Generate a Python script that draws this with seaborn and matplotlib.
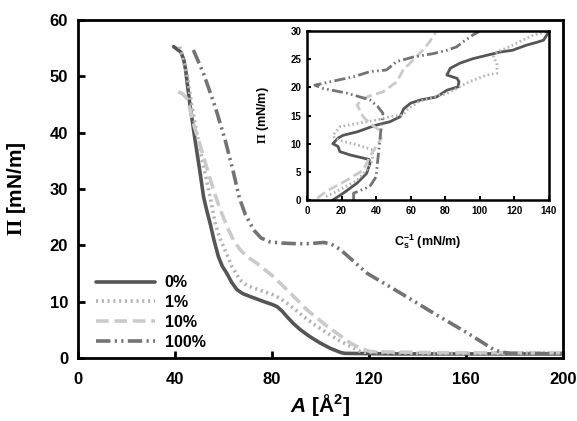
import matplotlib
matplotlib.use("Agg")
import matplotlib.pyplot as plt
import seaborn as sns

sns.set_style("ticks")
plt.rcParams['font.family'] = ['Liberation Sans', 'DejaVu Sans']
plt.rcParams['font.weight'] = 'bold'
plt.rcParams['mathtext.fontset'] = 'custom'
plt.rcParams['mathtext.rm'] = 'Liberation Serif'
plt.rcParams['mathtext.bf'] = 'Liberation Sans:bold'
plt.rcParams['mathtext.bfit'] = 'Liberation Sans:bold:italic'
for k in ['text.color', 'axes.labelcolor', 'xtick.color', 'ytick.color']:
    plt.rcParams[k] = 'black'

# main isotherms: area per molecule A vs surface pressure
A_0 = [39.5, 42.5, 43.6, 44.4, 45.3, 46.3, 48.3, 50.4, 51.8, 53.1, 54.5, 56.1, 57.9, 59.5, 61.4, 63.4, 65.6, 68, 71, 76.6, 80, 82.1, 84.2, 86.2, 88.8, 91.7, 95.5, 100, 104, 108.3, 110, 130, 160, 200]
P_0 = [55.3, 54.3, 53, 51.2, 48, 44.6, 38.7, 32.8, 28.6, 26.2, 23.9, 20.9, 18, 16.3, 15, 13.4, 12.1, 11.4, 10.9, 10, 9.5, 9.1, 8.3, 7.3, 6.1, 5, 3.8, 2.6, 1.7, 0.95, 0.8, 0.7, 0.7, 0.7]

A_1 = [42, 43.3, 44.9, 46, 47, 49, 51.8, 54.5, 56.6, 58.2, 60, 63.5, 66.9, 69.5, 72.5, 76.5, 80.7, 83.5, 86.2, 89.5, 93.1, 97.5, 102.8, 108, 113.8, 117, 140, 170, 200]
P_1 = [55.3, 53, 50.5, 47.5, 44.6, 39.9, 34, 28.6, 23.9, 21.6, 19.8, 16.2, 13.8, 12.9, 12.4, 11.8, 11.2, 10.5, 9.7, 8.6, 7.3, 5.9, 4.4, 3, 1.7, 1.0, 0.8, 0.8, 0.9]

A_10 = [41.4, 43.2, 44.9, 46.2, 47.6, 51.8, 55.9, 58.7, 62.1, 64.3, 66.9, 70, 73.8, 77.2, 80.7, 84, 87.6, 94.5, 102.8, 112.4, 117, 120.7, 150, 200]
P_10 = [47.3, 46.9, 46.1, 44.2, 41.7, 35.7, 29.8, 26.3, 22.7, 20.8, 19.2, 17.9, 16.8, 15.6, 14.4, 13, 11.5, 8.5, 5.6, 2.6, 1.6, 1.1, 0.9, 0.9]

A_100 = [47.6, 51.8, 56.6, 60.7, 64.2, 66.5, 69, 72.5, 75.5, 79.3, 84, 89, 95, 101.4, 104.5, 108.3, 113, 119.3, 133, 146.8, 160.6, 166.5, 171.6, 175, 178.5, 200]
P_100 = [54.7, 50.5, 44.6, 38.7, 32.8, 28.5, 25.5, 22.7, 21.3, 20.6, 20.4, 20.3, 20.3, 20.5, 20.2, 19.2, 17.4, 15, 11.5, 7.9, 4.4, 2.8, 1.4, 1.0, 0.8, 0.7]

# inset: compressibility modulus Cs^-1 vs surface pressure
C_0 = [15, 21, 29, 34.5, 36.5, 36, 25, 19, 18, 15, 18, 21, 29, 34.5, 40, 48, 54, 56, 60, 66, 75, 81, 87.5, 88, 87, 81, 83, 88.5, 96, 104, 112, 119, 127, 134, 137, 139.5, 139]
Pi_0 = [0, 1.2, 3, 4.7, 6.5, 7.2, 8, 8.6, 9.5, 10, 11, 11.5, 12.1, 12.7, 13.3, 13.9, 14.8, 16.2, 17.2, 17.8, 18.3, 19.5, 20.1, 21, 21.6, 22.2, 23.4, 24.3, 25.1, 25.7, 26.3, 26.6, 27.5, 28.1, 28.4, 29.6, 30]

C_1 = [11, 19, 29, 34.5, 38, 38, 29, 21, 16, 15, 19, 29, 40, 48, 55.7, 57.7, 65, 73, 81, 86.6, 94, 104, 110, 110, 108, 110, 117, 123, 131, 139]
Pi_1 = [0.6, 1.8, 3.5, 5.3, 7.1, 8.9, 9.8, 10.4, 11, 11.5, 13, 13.6, 14.2, 14.8, 15.1, 16, 17.5, 18.3, 18.9, 19.8, 21, 22.2, 22.5, 24.3, 25.4, 26.3, 27.2, 28.1, 29.3, 29.9]

C_10 = [6, 11, 23, 32.6, 36.4, 40, 43, 42, 36.4, 32.6, 29, 32.6, 36.4, 44, 52, 55.7, 59.6, 67, 71, 75]
Pi_10 = [0.3, 1.5, 3.5, 5.3, 7.7, 9.5, 10.9, 12.4, 13.6, 14.8, 16.9, 18, 18.5, 19.2, 21, 23.1, 24.3, 26.6, 28.1, 30]

C_100 = [27, 27, 36.4, 40, 41, 42, 43, 44, 41, 36.4, 23, 9.5, 4.6, 13.3, 27, 36.4, 46, 52, 61.5, 73, 81, 86.6, 90.4, 96, 100]
Pi_100 = [0, 1.2, 2.4, 4.1, 7.1, 10, 13, 15.4, 16.6, 17.8, 19, 19.8, 20.4, 21, 21.9, 22.8, 23.1, 24.6, 25.4, 26, 26.6, 27.2, 28.1, 29.3, 30]

labels = ['0%', '1%', '10%', '100%']
colors = ['#555555', '#b4b4b4', '#cacaca', '#737373']
styles = ['-', (0, (0.6, 1.0)), (0, (3.5, 1.6)), (0, (4, 1.2, 0.6, 1.2, 0.6, 1.2))]

fig = plt.figure(figsize=(5.77, 4.21), dpi=100)
ax = fig.add_axes([0.135, 0.150, 0.841, 0.802])

main = [(A_0, P_0), (A_1, P_1), (A_10, P_10), (A_100, P_100)]
for (a, p), lab, c, ls in zip(main, labels, colors, styles):
    sns.lineplot(x=a, y=p, sort=False, estimator=None, ax=ax, color=c,
                 linestyle=ls, linewidth=2.6, label=lab)

ax.set_xlim(0, 200)
ax.set_ylim(0, 60)
ax.set_xticks([0, 40, 80, 120, 160, 200])
ax.set_yticks([0, 10, 20, 30, 40, 50, 60])
ax.tick_params(direction='in', length=5, width=2, labelsize=12, pad=7)
ax.tick_params(axis='x', pad=10)
for s in ax.spines.values():
    s.set_linewidth(2)
    s.set_color('black')
ax.set_xlabel(r'$\mathbfit{A}$ [Å$^{\mathbf{2}}$]', fontsize=15, fontweight='bold', labelpad=4)
ax.set_ylabel(r'$\Pi$ [mN/m]', fontsize=15, fontweight='bold', labelpad=16)
ax.legend(loc='lower left', bbox_to_anchor=(0.008, -0.018), frameon=False,
          handlelength=3.7, fontsize=11.5, labelspacing=0.3, handletextpad=0.6)

ins = fig.add_axes([0.532, 0.525, 0.419, 0.401])
inset = [(C_0, Pi_0), (C_1, Pi_1), (C_10, Pi_10), (C_100, Pi_100)]
for (c_, p), c, ls in zip(inset, colors, styles):
    sns.lineplot(x=c_, y=p, sort=False, estimator=None, ax=ins, color=c,
                 linestyle=ls, linewidth=2, legend=False)
ins.set_xlim(0, 140)
ins.set_ylim(0, 30)
ins.set_xticks(range(0, 141, 20))
ins.set_yticks(range(0, 31, 5))
ins.tick_params(direction='in', length=3, width=1.5, labelsize=7, pad=4)
for s in ins.spines.values():
    s.set_linewidth(1.8)
    s.set_color('black')
ins.set_xlabel(r'C$_{\mathbf{s}}^{\mathbf{-1}}$ (mN/m)', fontsize=9, fontweight='bold', labelpad=12)
ins.set_ylabel(r'$\Pi$ (mN/m)', fontsize=9, fontweight='bold', labelpad=14)

fig.savefig('out.png', dpi=100)
